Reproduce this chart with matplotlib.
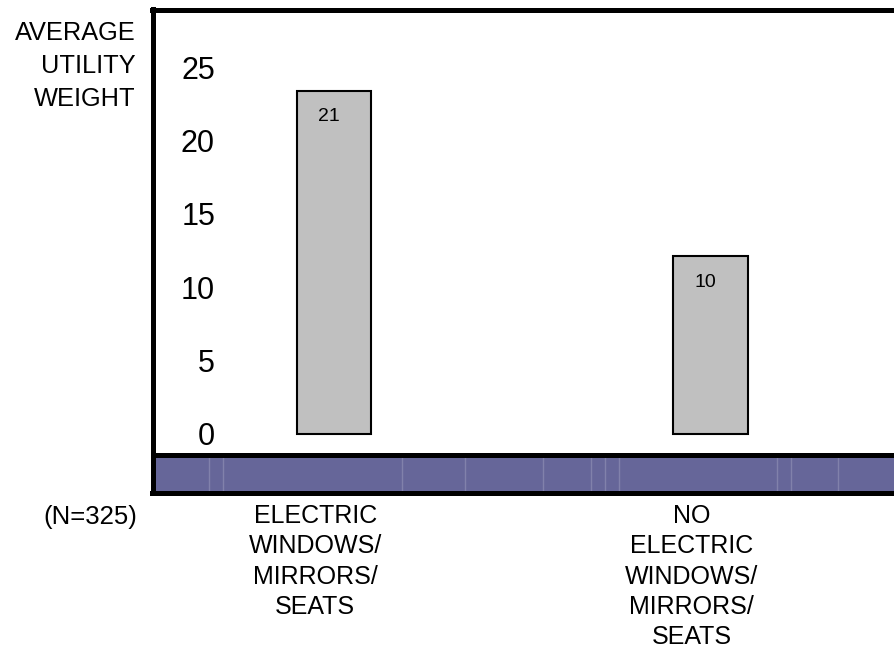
import matplotlib
matplotlib.use("Agg")
import matplotlib.pyplot as plt

# data
categories = ["ELECTRIC\nWINDOWS/\nMIRRORS/\nSEATS", "NO\nELECTRIC\nWINDOWS/\nMIRRORS/\nSEATS"]
bar_heights = [23.4, 12.1]      # drawn heights as they appear on the axis
bar_labels = ["21", "10"]       # values printed inside the bars
yticks = [0, 5, 10, 15, 20, 25]
sample_note = "(N=325)"
ylabel = "AVERAGE\nUTILITY\nWEIGHT"

FONT = ["Liberation Sans", "DejaVu Sans"]

fig = plt.figure(figsize=(8.94, 6.51), dpi=100)
W, H = 894, 651
# axes runs off the right edge of the picture, like the original slide
ax = fig.add_axes([152.5 / W, 1 - 493 / H, (1000 - 152.5) / W, (493 - 9.5) / H])

ax.set_xlim(-0.482, 1.769)
ax.set_ylim(-4.02, 28.92)

x = list(range(len(categories)))
bars = ax.bar(x, bar_heights, width=0.197, color="#c0c0c0",
              edgecolor="black", linewidth=1.5, zorder=3)

for b, lab in zip(bars, bar_labels):
    ax.text(b.get_x() + b.get_width() / 2 - 0.014, b.get_height() - 1.75, lab,
            ha="center", va="center", fontsize=14, family=FONT, zorder=4)

# purple base band with a black rule on top
ax.axhspan(-4.02, -1.567, color="#666699", zorder=1, linewidth=0)
for xv in [-0.333, -0.295, 0.18, 0.348, 0.554, 0.682, 0.72, 0.757, 1.177, 1.215, 1.34]:
    ax.plot([xv, xv], [-4.0, -1.6], color="white", alpha=0.18, lw=1, zorder=2)
ax.axhline(-1.40, color="black", lw=3.6, zorder=5)

for side in ["left", "top", "bottom"]:
    ax.spines[side].set_linewidth(3.6)
ax.spines["right"].set_visible(False)

ax.set_yticks(yticks)
ax.set_yticklabels([str(t) for t in yticks], fontsize=22, family=FONT)
ax.tick_params(axis="y", length=0, pad=-45)

# category labels sit a little left of the bar centres in the original
ax.set_xticks([i - 0.05 for i in x])
ax.set_xticklabels(categories, fontsize=18, family=FONT)
ax.tick_params(axis="x", length=0, pad=8)
for lbl in ax.get_xticklabels():
    lbl.set_linespacing(1.33)

fig.text(136 / W, 1 - 66 / H, ylabel, ha="right", va="center",
         fontsize=18.3, family=FONT, linespacing=1.48)
fig.text(137 / W, 1 - 517 / H, sample_note, ha="right", va="center",
         fontsize=18.5, family=FONT)

fig.savefig("out.png", dpi=100)
